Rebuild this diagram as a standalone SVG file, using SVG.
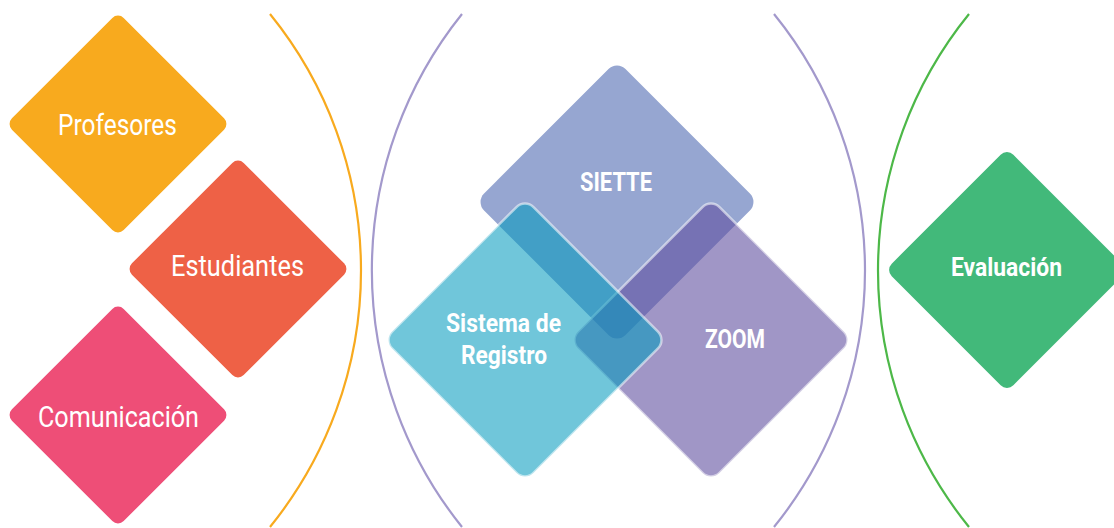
<svg xmlns="http://www.w3.org/2000/svg" width="1114" height="528" viewBox="0 0 1114 528">
<style>
.arc{fill:none;stroke-width:2.2}
.lbl{fill:#fff;font-family:Roboto,"Liberation Sans",sans-serif;text-anchor:middle}
.reg{font-size:29px;font-weight:400}
.bld{font-size:25px;font-weight:700}
.edge{stroke:#fff;stroke-opacity:0.55;stroke-width:2.5}
</style>
<rect width="1114" height="528" fill="#fff"/>
<g id="arcs">
<path class="arc" stroke="#f8aa1e" d="M270 14 A407 407 0 0 1 270 527"/>
<path class="arc" stroke="#a399cc" d="M462 14 A410 410 0 0 0 462 527"/>
<path class="arc" stroke="#a399cc" d="M774 14 A407 407 0 0 1 774 527"/>
<path class="arc" stroke="#4db848" d="M969 14 A407 407 0 0 0 969 527"/>
</g>
<g id="profesores">
<rect x="-79" y="-79" width="158" height="158" rx="8" fill="#f8aa1e" transform="translate(118 124) rotate(45)"/>
<text class="lbl reg" x="117.5" y="135" textLength="119" lengthAdjust="spacingAndGlyphs">Profesores</text>
</g>
<g id="estudiantes">
<rect x="-79" y="-79" width="158" height="158" rx="8" fill="#ee6146" transform="translate(238 269) rotate(45)"/>
<text class="lbl reg" x="237.5" y="276" textLength="133" lengthAdjust="spacingAndGlyphs">Estudiantes</text>
</g>
<g id="comunicacion">
<rect x="-79" y="-79" width="158" height="158" rx="8" fill="#ee4e77" transform="translate(118 415) rotate(45)"/>
<text class="lbl reg" x="118.5" y="427" textLength="161" lengthAdjust="spacingAndGlyphs">Comunicación</text>
</g>
<g id="siette">
<rect x="-100" y="-100" width="200" height="200" rx="12" fill="#96a6d1" transform="translate(617 202) rotate(45)"/>
<text class="lbl bld" x="616" y="191" textLength="72" lengthAdjust="spacingAndGlyphs">SIETTE</text>
</g>
<g id="zoom">
<rect class="edge" x="-100" y="-100" width="200" height="200" rx="12" fill="rgb(97,80,160)" fill-opacity="0.6" transform="translate(711 340) rotate(45)"/>
<text class="lbl bld" x="735" y="348" textLength="60" lengthAdjust="spacingAndGlyphs">ZOOM</text>
</g>
<g id="sistema-registro">
<rect class="edge" x="-100" y="-100" width="200" height="200" rx="12" fill="rgb(0,153,189)" fill-opacity="0.56" transform="translate(525 340) rotate(45)"/>
<text class="lbl bld" x="503.5" y="332" textLength="115" lengthAdjust="spacingAndGlyphs">Sistema de</text>
<text class="lbl bld" x="504" y="364" textLength="86" lengthAdjust="spacingAndGlyphs">Registro</text>
</g>
<g id="evaluacion">
<rect x="-86" y="-86" width="172" height="172" rx="9" fill="#42b97a" transform="translate(1007 270) rotate(45)"/>
<text class="lbl bld" x="1006.5" y="276" font-size="26" textLength="111" lengthAdjust="spacingAndGlyphs">Evaluación</text>
</g>
</svg>
